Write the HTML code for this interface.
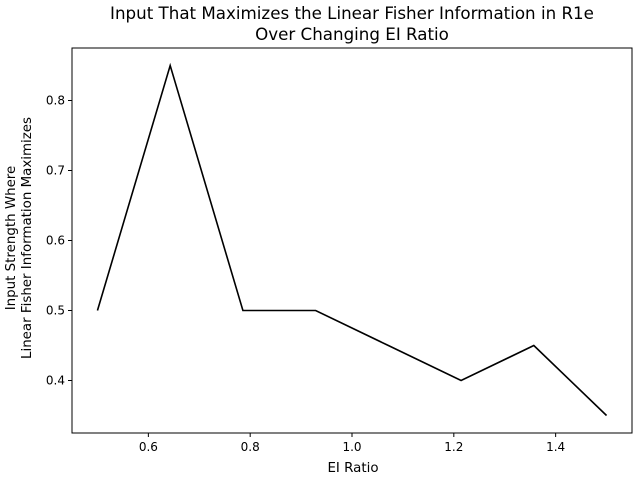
<!DOCTYPE html>
<html><head><meta charset="utf-8"><style>body{margin:0;background:#fff}svg{display:block;font-family:"DejaVu Sans","Liberation Sans",sans-serif}</style></head>
<body>
<svg id="chart" width="640" height="480">
<rect width="640" height="480" fill="#fff"/>
<text x="352" y="19" font-size="16.7" text-anchor="middle">Input That Maximizes the Linear Fisher Information in R1e</text>
<text x="352" y="40" font-size="16.7" text-anchor="middle">Over Changing EI Ratio</text>
<text x="353" y="472" font-size="13.4" text-anchor="middle">EI Ratio</text>
<text transform="translate(15,238) rotate(-90)" font-size="13.4" text-anchor="middle"><tspan x="0" y="0">Input Strength Where</tspan><tspan x="0" y="16">Linear Fisher Information Maximizes</tspan></text>
<g id="ticks"></g>
<path id="series" fill="none" stroke="#000" stroke-width="1.6"/>
<rect x="72" y="48" width="560" height="385" fill="none" stroke="#000" stroke-width="1"/>
</svg>
<script>
const xValues=[0.5,0.642857,0.785714,0.928571,1.071429,1.214286,1.357143,1.5];
const yValues=[0.5,0.85,0.5,0.5,0.45,0.4,0.45,0.35];
const xTicks=[0.6,0.8,1.0,1.2,1.4];
const yTicks=[0.4,0.5,0.6,0.7,0.8];
const xTickLabels=["0.6","0.8","1.0","1.2","1.4"];
const yTickLabels=["0.4","0.5","0.6","0.7","0.8"];
const L=72,R=632,T=48,B=433;
const xmin=0.45,xmax=1.55,ymin=0.325,ymax=0.875;
const sx=v=>L+(v-xmin)/(xmax-xmin)*(R-L);
const sy=v=>B-(v-ymin)/(ymax-ymin)*(B-T);
const NS="http://www.w3.org/2000/svg";
const g=document.getElementById('ticks');
function mk(t,a){const e=document.createElementNS(NS,t);for(const k in a)e.setAttribute(k,a[k]);g.appendChild(e);return e;}
xTicks.forEach((v,i)=>{
 const l=mk('line',{x1:sx(v),x2:sx(v),y1:B,y2:B+4,stroke:'#000'});
 
 
 const t=mk('text',{x:sx(v),y:B+18,'font-size':12,'text-anchor':'middle'});
 t.textContent=xTickLabels[i];
 
 
});
yTicks.forEach((v,i)=>{
 const l=mk('line',{x1:L-4,x2:L,y1:sy(v),y2:sy(v),stroke:'#000'});
 
 
 const t=mk('text',{x:L-7,y:sy(v)+4,'font-size':12,'text-anchor':'end'});
 t.textContent=yTickLabels[i];
 
 
});
document.getElementById('series').setAttribute('d',xValues.map((x,i)=>(i?'L':'M')+sx(x)+','+sy(yValues[i])).join(''));
</script>
</body></html>
